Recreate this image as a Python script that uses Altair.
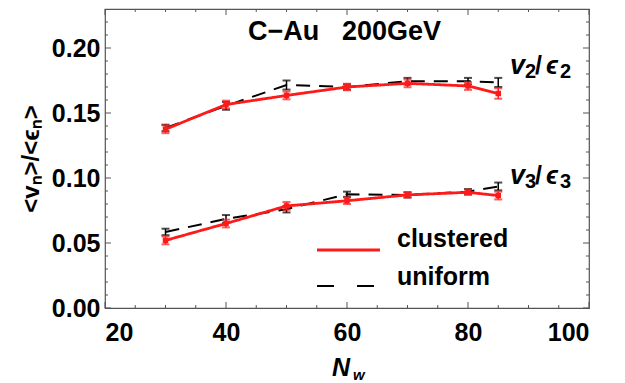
import altair as alt
import pandas as pd

# Number of wounded nucleons and flow-to-eccentricity ratios
nw = [30, 40, 50, 60, 70, 80, 85]
v2_clustered = [0.1375, 0.1565, 0.1635, 0.1700, 0.1728, 0.1708, 0.1650]
v2_clustered_err = [0.0030, 0.0030, 0.0030, 0.0025, 0.0030, 0.0030, 0.0040]
v2_uniform = [0.1385, 0.1555, 0.1715, 0.1700, 0.1745, 0.1745, 0.1735]
v2_uniform_err = [0.0025, 0.0030, 0.0035, 0.0020, 0.0025, 0.0025, 0.0035]
v3_clustered = [0.0520, 0.0650, 0.0785, 0.0825, 0.0870, 0.0890, 0.0865]
v3_clustered_err = [0.0030, 0.0030, 0.0030, 0.0025, 0.0020, 0.0020, 0.0030]
v3_uniform = [0.0585, 0.0685, 0.0760, 0.0875, 0.0870, 0.0895, 0.0935]
v3_uniform_err = [0.0025, 0.0030, 0.0025, 0.0020, 0.0020, 0.0020, 0.0030]

x_major = [20, 40, 60, 80, 100]
x_minor = [25, 30, 35, 45, 50, 55, 65, 70, 75, 85, 90, 95]
y_major = [0.0, 0.05, 0.10, 0.15, 0.20]
y_minor = [0.01, 0.02, 0.03, 0.04, 0.06, 0.07, 0.08, 0.09, 0.11, 0.12,
           0.13, 0.14, 0.16, 0.17, 0.18, 0.19, 0.21, 0.22]

rows = []
for h, model, vals, errs in [
    ("v2", "clustered", v2_clustered, v2_clustered_err),
    ("v2", "uniform", v2_uniform, v2_uniform_err),
    ("v3", "clustered", v3_clustered, v3_clustered_err),
    ("v3", "uniform", v3_uniform, v3_uniform_err),
]:
    for x, v, e in zip(nw, vals, errs):
        rows.append({"nw": x, "val": v, "lo": v - e, "hi": v + e,
                     "harm": h, "model": model})
df = pd.DataFrame(rows)

W, H = 484, 299
FONT = "Liberation Sans"
RED = "#ff1a1a"

xs = alt.Scale(domain=[20, 100], nice=False, zero=False)
ys = alt.Scale(domain=[0, 0.23], nice=False)
X = alt.X("nw:Q", scale=xs,
          axis=alt.Axis(values=x_major, format="d", ticks=False, grid=False,
                        labelPadding=12, title=None))
Y = alt.Y("val:Q", scale=ys,
          axis=alt.Axis(values=y_major, format=".2f", ticks=False, grid=False,
                        labelPadding=5, title="<vₙ>/<ϵₙ>", titlePadding=8))

base = alt.Chart(df)


def series(model, color, dash, width):
    d = base.transform_filter(alt.datum.model == model)
    line = d.mark_line(color=color, strokeWidth=width, strokeDash=dash).encode(
        x=X, y=Y, detail="harm:N")
    bar = d.mark_rule(color=color, strokeWidth=1.5).encode(
        x="nw:Q", y="lo:Q", y2="hi:Q")
    cap_lo = d.mark_tick(color=color, thickness=2, size=8,
                         orient="horizontal").encode(x="nw:Q", y="lo:Q")
    cap_hi = d.mark_tick(color=color, thickness=2, size=8,
                         orient="horizontal").encode(x="nw:Q", y="hi:Q")
    return [line, bar, cap_lo, cap_hi]


layers = series("uniform", "black", [14, 9], 2)
layers += series("clustered", RED, [1, 0], 2.8)
layers.append(
    base.transform_filter(alt.datum.model == "clustered")
    .mark_square(color=RED, size=30, opacity=1)
    .encode(x="nw:Q", y="val:Q"))

# inward tick marks on all four sides of the frame
FRAME = "#555555"


def xticks(vals, length, top):
    y0 = 0 if top else H
    y1 = length if top else H - length
    return alt.Chart(pd.DataFrame({"t": vals})).mark_rule(
        color=FRAME, strokeWidth=1).encode(
        x=alt.X("t:Q", scale=xs), y=alt.value(y0), y2=alt.value(y1))


def yticks(vals, length, right):
    x0 = W if right else 0
    x1 = W - length if right else length
    return alt.Chart(pd.DataFrame({"t": vals})).mark_rule(
        color=FRAME, strokeWidth=1).encode(
        y=alt.Y("t:Q", scale=ys), x=alt.value(x0), x2=alt.value(x1))


for side in (False, True):
    layers += [xticks(x_major, 6, side), xticks(x_minor, 3, side),
               yticks(y_major, 6, side), yticks(y_minor, 3, side)]


def label(text, x, y, size, style="normal", align="left", color="black"):
    return alt.Chart(pd.DataFrame({"s": [text]})).mark_text(
        font=FONT, fontSize=size, fontWeight="bold", fontStyle=style,
        align=align, baseline="alphabetic", color=color).encode(
        text="s:N", x=alt.value(x), y=alt.value(y))


def ratio_label(n, x, y):
    # v_n / eps_n with lowered subscripts
    return [
        label("v", x, y, 27, style="italic"),
        label(n, x + 15, y + 4, 20),
        label("/", x + 25, y, 25),
        label("ϵ", x + 36, y, 25, style="italic"),
        label(n, x + 50, y + 4, 20),
    ]


layers += [
    label("C−Au", 143, 31, 27),
    label("200GeV", 237, 31, 27),
    label("clustered", 292, 238, 25),
    label("uniform", 292, 276, 25),
    label("N", 227, 367, 25, style="italic"),
    label("w", 248, 371, 15, style="italic"),
]
layers += ratio_label("2", 405, 65)
layers += ratio_label("3", 405, 175)

# legend swatches
layers += [
    alt.Chart(pd.DataFrame({"k": [0]})).mark_rule(
        color=RED, strokeWidth=2.8).encode(
        x=alt.value(212), x2=alt.value(275), y=alt.value(241)),
    alt.Chart(pd.DataFrame({"k": [0]})).mark_rule(
        color="black", strokeWidth=2, strokeDash=[17, 23]).encode(
        x=alt.value(212), x2=alt.value(270), y=alt.value(277)),
]

chart = alt.layer(*layers).properties(
    width=W, height=H,
    autosize=alt.AutoSizeParams(type="none"),
    padding={"left": 105, "top": 9, "right": 36, "bottom": 75},
).configure_view(stroke=FRAME, strokeWidth=1.2).configure_axis(
    domain=False,
    labelFont=FONT, labelFontSize=25, labelFontWeight="bold",
    labelColor="black",
    titleFont=FONT, titleFontSize=24, titleFontWeight="bold",
    titleColor="black",
)

chart.save("out.html", embed_options={"renderer": "svg", "actions": False})
